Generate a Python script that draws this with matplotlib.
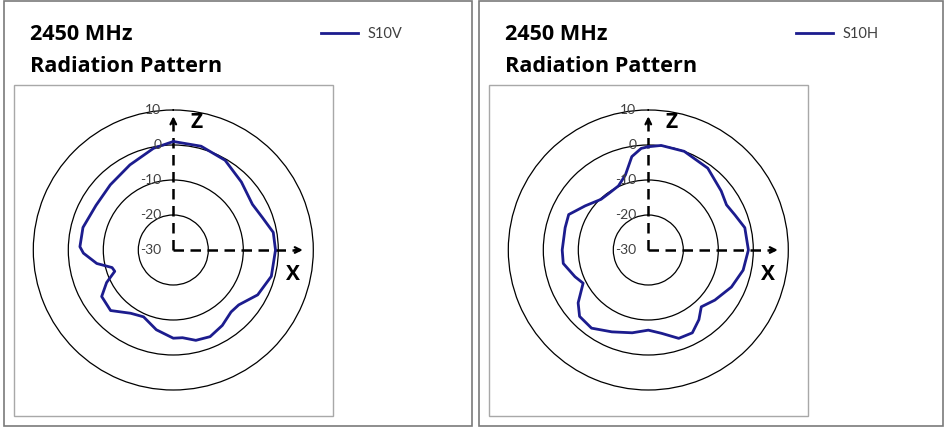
import numpy as np
import matplotlib
matplotlib.use("Agg")
import matplotlib.pyplot as plt
from matplotlib.patches import Rectangle

plt.rcParams['font.family'] = ['Lato', 'DejaVu Sans']

# angles in degrees, clockwise from Z (top), X at 90
s10v_ang = [0, 15, 30, 45, 60, 70, 80, 90, 105, 118, 130, 137, 147, 157, 166, 174,
            180, 192, 204, 214, 226, 237, 244, 250, 254, 260, 268, 272, 284, 300,
            316, 333, 349]
s10v_db = [1.0, 0.7, -0.4, -2.5, -3.9, -2.9, -1.0, -0.8, -1.0, -2.7, -5.6, -5.8, -4.3,
           -3.1, -3.4, -4.8, -4.8, -6.7, -9.1, -8.2, -5.1, -5.6, -8.8, -12.2, -11.8,
           -7.8, -4.3, -3.3, -3.4, -4.5, -4.1, -2.7, -0.4]

s10h_ang = [0, 7, 20, 36, 51, 60, 68, 77, 90, 102, 114, 127, 137, 144, 152, 161, 171,
            180, 191, 204, 216, 226, 233, 243, 250, 261, 270, 285, 294, 305, 317, 325,
            335, 343, 350, 356]
s10h_db = [-0.5, 0.1, 0.0, -1.1, -3.2, -4.2, -3.3, -1.7, -1.4, -2.3, -4.0, -6.2, -7.8,
           -5.4, -3.2, -3.3, -5.9, -7.1, -5.9, -4.4, -2.4, -2.7, -4.9, -9.1, -7.7, -5.4,
           -5.4, -5.4, -5.1, -8.0, -10.2, -10.3, -9.8, -7.6, -2.9, -0.9]

ring_vals = [10, 0, -10, -20, -30]
series = [("S10V", s10v_ang, s10v_db), ("S10H", s10h_ang, s10h_db)]
title_lines = ["2450 MHz", "Radiation Pattern"]

W, H = 946, 428
fig = plt.figure(figsize=(W / 100, H / 100), dpi=100)
navy = "#1c1c8e"
bold_font = ["Open Sans", "DejaVu Sans"]


def fx(x):
    return x / W


def fy(y):
    return 1 - y / H


for i, (name, ang, db) in enumerate(series):
    off = [0, 475][i]
    # panel border and plot area box
    pw = [468, 464][i]
    fig.add_artist(Rectangle((fx(off + 4), fy(426)), pw / W, 425 / H, transform=fig.transFigure,
                             fill=False, ec="#7a7a7a", lw=1.2))
    fig.add_artist(Rectangle((fx(off + 14), fy(416)), 319 / W, 331 / H, transform=fig.transFigure,
                             fill=False, ec="#a8a8a8", lw=1.0))

    fig.text(fx(off + 30), fy(40.5), title_lines[0], fontsize=15.6, fontweight="bold",
             family=bold_font, va="baseline")
    fig.text(fx(off + 30), fy(71.5), title_lines[1], fontsize=15.6, fontweight="bold",
             family=bold_font, va="baseline")

    # legend
    fig.add_artist(plt.Line2D([fx(off + 321), fx(off + 358)], [fy(33), fy(33)], color=navy, lw=2))
    fig.text(fx(off + 368), fy(34), name, fontsize=10.5, color="#404040", va="center")

    ax = fig.add_axes([fx(off + 33.3), fy(390), 280 / W, 280 / H], projection="polar")
    ax.set_theta_zero_location("N")
    ax.set_theta_direction(-1)
    ax.set_ylim(-30, 10)
    ax.set_thetagrids([])
    ax.set_rgrids([-20, -10, 0], labels=[])
    ax.xaxis.grid(False)
    ax.yaxis.grid(True, color="black", lw=0.9, ls="-")
    ax.spines["polar"].set_color("black")
    ax.spines["polar"].set_linewidth(0.9)
    ax.patch.set_alpha(0)

    for v in ring_vals:
        ax.annotate(str(v), xy=(0, v), xytext=(-12, 0), textcoords="offset pixels",
                    ha="right", va="center", fontsize=10, color="#404040", annotation_clip=False)

    # dashed axes with arrows
    ax.plot([0, 0], [-30, 7.0], color="black", lw=1.8, ls=(0, (4.2, 2.6)), clip_on=False)
    ax.plot([np.pi / 2, np.pi / 2], [-30, 5.8], color="black", lw=1.8, ls=(0, (4.2, 2.6)), clip_on=False)
    ax.annotate("", xy=(0, 8.2), xytext=(0, 6.0),
                arrowprops=dict(arrowstyle="->", lw=1.6, color="black", shrinkA=0, shrinkB=0),
                annotation_clip=False)
    ax.annotate("", xy=(np.pi / 2, 7.0), xytext=(np.pi / 2, 4.8),
                arrowprops=dict(arrowstyle="->", lw=1.6, color="black", shrinkA=0, shrinkB=0),
                annotation_clip=False)

    th = np.radians(np.r_[ang, ang[0]])
    r = np.r_[db, db[0]]
    ax.plot(th, r, color=navy, lw=2.0)

    fig.text(fx(off + 197), fy(123), "Z", fontsize=15, fontweight="bold", family=bold_font,
             ha="center", va="center")
    fig.text(fx(off + 293), fy(275), "X", fontsize=15, fontweight="bold", family=bold_font,
             ha="center", va="center")

fig.savefig("out.png", dpi=100)
